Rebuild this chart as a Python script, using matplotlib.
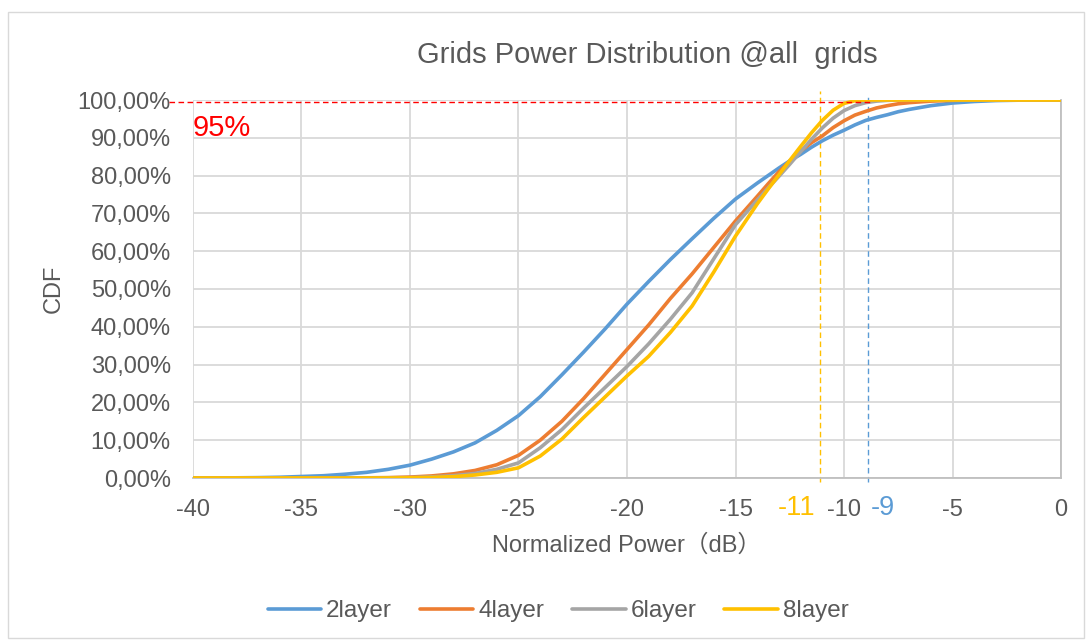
import numpy as np
import matplotlib.pyplot as plt
from matplotlib.ticker import FuncFormatter
from matplotlib.patches import Rectangle

# dB axis (x) and CDF values in %
power_db = [-40, -39, -38, -37, -36, -35, -34, -33, -32, -31,
            -30, -29, -28, -27, -26, -25, -24, -23, -22, -21,
            -20, -19, -18, -17, -16, -15,
            -14, -13.5, -13, -12.5, -12, -11.5, -11, -10.5, -10, -9.5,
            -9, -8.5, -8, -7.5, -7,
            -6, -5, -4, -3, -2, -1, 0]

cdf_2layer = [0.0, 0.0, 0.05, 0.1, 0.2, 0.4, 0.6, 1.0, 1.5, 2.3,
              3.4, 5.0, 6.9, 9.3, 12.6, 16.5, 21.5, 27.3, 33.3, 39.5,
              46.0, 52.0, 57.8, 63.3, 68.7, 73.8,
              78.0, 80.0, 82.0, 83.9, 85.6, 87.5, 89.2, 90.7, 92.0, 93.4,
              94.6, 95.4, 96.1, 96.9, 97.5,
              98.5, 99.2, 99.6, 99.85, 99.95, 100.0, 100.0]
cdf_4layer = [0.0, 0.0, 0.0, 0.0, 0.0, 0.0, 0.0, 0.0, 0.05, 0.1,
              0.25, 0.55, 1.1, 2.0, 3.5, 6.0, 10.0, 15.0, 21.0, 27.5,
              34.0, 40.5, 47.5, 54.0, 61.0, 68.0,
              74.5, 77.8, 81.0, 83.8, 86.5, 88.7, 90.5, 92.7, 94.5, 96.0,
              97.0, 97.9, 98.5, 99.0, 99.3,
              99.7, 99.9, 100.0, 100.0, 100.0, 100.0, 100.0]
cdf_6layer = [0.0, 0.0, 0.0, 0.0, 0.0, 0.0, 0.0, 0.0, 0.0, 0.05,
              0.1, 0.3, 0.6, 1.2, 2.3, 4.0, 8.0, 12.8, 18.5, 24.0,
              29.5, 35.5, 42.0, 49.0, 58.0, 67.0,
              73.5, 76.7, 79.8, 83.0, 86.3, 89.6, 92.6, 95.2, 97.2, 98.5,
              99.3, 99.7, 99.9, 100.0, 100.0,
              100.0, 100.0, 100.0, 100.0, 100.0, 100.0, 100.0]
cdf_8layer = [0.0, 0.0, 0.0, 0.0, 0.0, 0.0, 0.0, 0.0, 0.0, 0.0,
              0.05, 0.15, 0.35, 0.8, 1.5, 2.7, 5.8, 10.3, 16.0, 21.5,
              27.0, 32.2, 38.5, 45.5, 54.5, 64.0,
              72.5, 76.4, 80.2, 84.0, 87.7, 91.3, 94.6, 97.3, 99.1, 99.8,
              100.0, 100.0, 100.0, 100.0, 100.0,
              100.0, 100.0, 100.0, 100.0, 100.0, 100.0, 100.0]

labels = ["2layer", "4layer", "6layer", "8layer"]
colors = ["#5B9BD5", "#ED7D31", "#A5A5A5", "#FFC000"]

# marker lines
mark_8layer = -11.1
mark_2layer = -8.9
red_level = 99.6

plt.rcParams['font.family'] = ['Liberation Sans', 'Noto Sans CJK SC', 'DejaVu Sans']
plt.rcParams['axes.unicode_minus'] = False
txt = "#595959"
fs = 17

fig = plt.figure(figsize=(10.91, 6.41), dpi=100)
fig.patches.append(Rectangle((8 / 1091, 3 / 641), 1076 / 1091, 626 / 641,
                             transform=fig.transFigure, fill=False,
                             edgecolor="#D9D9D9", linewidth=1))
ax = fig.add_axes([193 / 1091, 163 / 641, 868 / 1091, 378 / 641])

for y, lab, c in zip([cdf_2layer, cdf_4layer, cdf_6layer, cdf_8layer], labels, colors):
    ax.plot(power_db, y, color=c, linewidth=2.6, label=lab,
            solid_capstyle='round', solid_joinstyle='round', zorder=3)

ax.plot([-41.1, -8.75], [red_level, red_level], color="#FF0000", linestyle="--",
        linewidth=1.0, dashes=(4, 2.5), clip_on=False, zorder=4)
ax.plot([mark_8layer, mark_8layer], [-1, 102.5], color="#FFC000", linestyle="--",
        linewidth=1.0, dashes=(4, 2.5), clip_on=False, zorder=2)
ax.plot([mark_2layer, mark_2layer], [-1, 101.5], color="#5B9BD5", linestyle="--",
        linewidth=1.0, dashes=(4, 2.5), clip_on=False, zorder=2)

ax.text(-40, 92.5, "95%", color="#FF0000", fontsize=21, va="center", ha="left")
ax.text(mark_8layer - 0.2, -8, "-11", color="#FFC000", fontsize=19.5, ha="right", va="center")
ax.text(mark_2layer + 0.15, -8, "-9", color="#5B9BD5", fontsize=19.5, ha="left", va="center")

ax.set_xlim(-40, 0)
ax.set_ylim(0, 100)
ax.set_xticks(np.arange(-40, 1, 5))
ax.set_yticks(np.arange(0, 101, 10))
ax.yaxis.set_major_formatter(FuncFormatter(lambda v, p: f"{v:.2f}".replace(".", ",") + "%"))
ax.tick_params(length=0, labelsize=fs, colors=txt)
ax.tick_params(axis="x", pad=15)
ax.tick_params(axis="y", pad=16)
ax.grid(True, color="#D9D9D9", linewidth=1.3)
ax.set_axisbelow(True)
for s in ["top", "left"]:
    ax.spines[s].set_visible(False)
for s in ["bottom", "right"]:
    ax.spines[s].set_color("#BFBFBF")
    ax.spines[s].set_linewidth(1.3)

ax.set_xlabel("Normalized Power（dB）", fontsize=fs, color=txt, labelpad=10)
ax.set_ylabel("CDF", fontsize=fs, color=txt, labelpad=9)
fig.text(647 / 1091, 1 - 55 / 641, "Grids Power Distribution @all  grids",
         fontsize=21, color=txt, ha="center", va="center")

fig.legend(loc="center", bbox_to_anchor=(558 / 1091, 1 - 611 / 641), ncol=4,
           frameon=False, fontsize=17.5, labelcolor=txt, handlelength=2.2,
           handletextpad=0.2, columnspacing=1.15)

fig.savefig("out.png", dpi=100)
